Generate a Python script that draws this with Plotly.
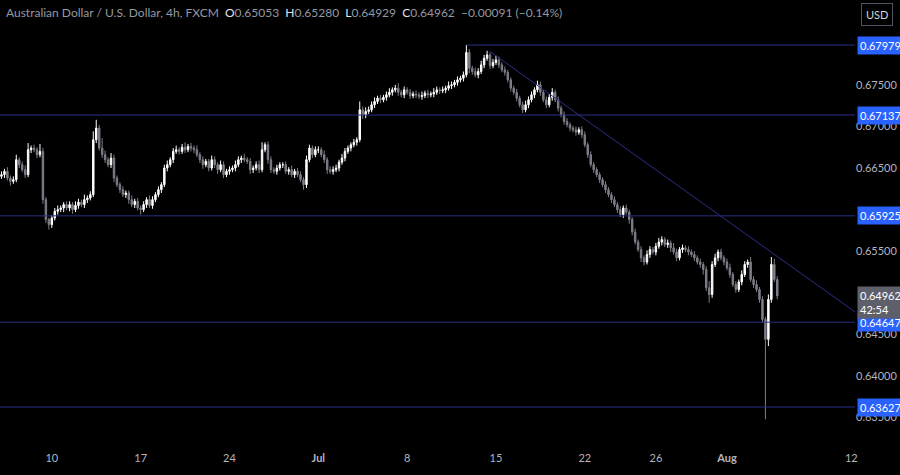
import pandas as pd
import plotly.graph_objects as go

# 4h closes, one row per trading day (first row starts Jun 5 04:00)
closes = [
    0.6642, 0.6646, 0.6638, 0.6634, 0.6636,                # Jun 5
    0.6660, 0.6654, 0.6648, 0.6642, 0.6672, 0.6674,        # Jun 6
    0.6672, 0.6666, 0.6670, 0.6612, 0.6588, 0.6582,        # Jun 7
    0.6590, 0.6598, 0.6600, 0.6602, 0.6606, 0.6602,        # Jun 10
    0.6606, 0.6600, 0.6605, 0.6609, 0.6606, 0.6612,        # Jun 11
    0.6614, 0.6618, 0.6684, 0.6698, 0.6674, 0.6666,        # Jun 12
    0.6660, 0.6654, 0.6662, 0.6638, 0.6630, 0.6624,        # Jun 13
    0.6618, 0.6620, 0.6612, 0.6606, 0.6610, 0.6602,        # Jun 14
    0.6600, 0.6606, 0.6612, 0.6605, 0.6612, 0.6618,        # Jun 17
    0.6624, 0.6630, 0.6650, 0.6654, 0.6660, 0.6670,        # Jun 18
    0.6672, 0.6670, 0.6675, 0.6672, 0.6676, 0.6674,        # Jun 19
    0.6672, 0.6666, 0.6660, 0.6654, 0.6658, 0.6650,        # Jun 20
    0.6660, 0.6654, 0.6648, 0.6654, 0.6642, 0.6646,        # Jun 21
    0.6648, 0.6650, 0.6654, 0.6660, 0.6662, 0.6660,        # Jun 24
    0.6658, 0.6648, 0.6650, 0.6654, 0.6648, 0.6672,        # Jun 25
    0.6678, 0.6660, 0.6648, 0.6646, 0.6650, 0.6654,        # Jun 26
    0.6654, 0.6646, 0.6648, 0.6642, 0.6646, 0.6642,        # Jun 27
    0.6636, 0.6630, 0.6660, 0.6674, 0.6666, 0.6672,        # Jun 28
    0.6672, 0.6666, 0.6660, 0.6648, 0.6646, 0.6648,        # Jul 1
    0.6650, 0.6657, 0.6662, 0.6670, 0.6674, 0.6678,        # Jul 2
    0.6681, 0.6684, 0.6720, 0.6714, 0.6718, 0.6720,        # Jul 3
    0.6726, 0.6730, 0.6734, 0.6732, 0.6735, 0.6738,        # Jul 4
    0.6741, 0.6744, 0.6746, 0.6741, 0.6738, 0.6744,        # Jul 5
    0.6741, 0.6737, 0.6739, 0.6738, 0.6736, 0.6737,        # Jul 8
    0.6740, 0.6738, 0.6739, 0.6741, 0.6744, 0.6743,        # Jul 9
    0.6744, 0.6746, 0.6749, 0.6750, 0.6753, 0.6756,        # Jul 10
    0.6758, 0.6762, 0.6789, 0.6770, 0.6766, 0.6762,        # Jul 11
    0.6766, 0.6774, 0.6782, 0.6786, 0.6773, 0.6777,        # Jul 12
    0.6780, 0.6774, 0.6768, 0.6765, 0.6756, 0.6746,        # Jul 15
    0.6741, 0.6734, 0.6726, 0.6720, 0.6726, 0.6732,        # Jul 16
    0.6738, 0.6744, 0.6750, 0.6741, 0.6732, 0.6726,        # Jul 17
    0.6735, 0.6741, 0.6732, 0.6722, 0.6714, 0.6706,        # Jul 18
    0.6702, 0.6698, 0.6696, 0.6693, 0.6696, 0.6690,        # Jul 19
    0.6678, 0.6666, 0.6654, 0.6648, 0.6642, 0.6636,        # Jul 22
    0.6630, 0.6624, 0.6618, 0.6612, 0.6606, 0.6600,        # Jul 23
    0.6594, 0.6602, 0.6597, 0.6588, 0.6573, 0.6561,        # Jul 24
    0.6552, 0.6542, 0.6537, 0.6546, 0.6552, 0.6549,        # Jul 25
    0.6556, 0.6561, 0.6564, 0.6558, 0.6560, 0.6554,        # Jul 26
    0.6549, 0.6542, 0.6552, 0.6554, 0.6552, 0.6549,        # Jul 29
    0.6546, 0.6542, 0.6537, 0.6534, 0.6528, 0.6506,        # Jul 30
    0.6498, 0.6534, 0.6542, 0.6549, 0.6542, 0.6537,        # Jul 31
    0.6530, 0.6522, 0.6510, 0.6504, 0.6513, 0.6522,        # Aug 1
    0.6534, 0.6537, 0.6516, 0.6510, 0.6504, 0.6492,        # Aug 2
    0.6468, 0.6444, 0.6492, 0.6534, 0.6516, 0.64962,       # Aug 5
]

# wick lengths beyond the body, in pips (0.0001)
wick_up = [
    4, 3, 5, 3, 4,
    6, 3, 4, 5, 8, 3,
    4, 3, 9, 4, 3, 2,
    3, 4, 5, 3, 3, 4,
    4, 3, 5, 4, 3, 6,
    3, 4, 10, 10, 4, 12,
    5, 3, 6, 4, 3, 3,
    4, 3, 3, 5, 3, 4,
    3, 4, 3, 5, 4, 3,
    4, 3, 4, 5, 3, 4,
    5, 3, 4, 6, 3, 4,
    3, 5, 3, 4, 3, 3,
    5, 4, 3, 5, 4, 3,
    4, 3, 5, 4, 3, 5,
    3, 4, 3, 4, 5, 9,
    3, 4, 4, 3, 4, 3,
    3, 4, 3, 5, 3, 4,
    4, 3, 5, 4, 3, 4,
    4, 3, 5, 3, 4, 4,
    4, 3, 5, 4, 3, 3,
    4, 3, 10, 4, 5, 4,
    4, 5, 3, 4, 3, 4,
    5, 3, 4, 6, 3, 4,
    3, 4, 3, 4, 3, 5,
    3, 4, 3, 5, 4, 3,
    4, 3, 5, 4, 3, 4,
    3, 4, 9, 4, 3, 5,
    4, 5, 4, 5, 3, 4,
    5, 4, 3, 4, 3, 3,
    3, 4, 3, 4, 5, 4,
    4, 3, 5, 4, 3, 4,
    4, 5, 3, 4, 3, 4,
    4, 3, 3, 4, 3, 4,
    4, 3, 4, 3, 3, 3,
    3, 4, 3, 3, 4, 3,
    4, 3, 4, 3, 3, 4,
    3, 4, 3, 5, 4, 3,
    4, 5, 4, 3, 4, 3,
    6, 4, 3, 4, 3, 4,
    3, 4, 3, 4, 3, 4,
    8, 4, 5, 3, 4, 3,
    4, 5, 3, 4, 3, 5,
    4, 3, 6, 4, 5, 3,
    4, 3, 6, 9, 7, 4,
]
wick_dn = [
    3, 4, 3, 5, 3,
    3, 4, 3, 4, 3, 4,
    3, 4, 3, 5, 4, 6,
    4, 3, 4, 3, 5, 3,
    4, 5, 3, 4, 3, 4,
    4, 3, 3, 4, 3, 4,
    4, 3, 4, 5, 3, 4,
    3, 4, 5, 3, 4, 3,
    6, 3, 4, 3, 4, 3,
    3, 4, 3, 4, 3, 4,
    3, 4, 3, 4, 3, 4,
    4, 3, 4, 5, 3, 4,
    3, 4, 5, 3, 4, 3,
    4, 3, 4, 3, 4, 3,
    3, 5, 4, 3, 4, 3,
    3, 5, 4, 3, 4, 3,
    4, 3, 4, 3, 4, 3,
    3, 6, 4, 3, 4, 3,
    4, 3, 4, 5, 3, 4,
    3, 4, 3, 4, 3, 4,
    3, 4, 3, 5, 4, 3,
    3, 4, 3, 4, 3, 4,
    3, 4, 3, 4, 3, 4,
    3, 4, 3, 4, 3, 4,
    3, 4, 3, 4, 3, 4,
    3, 4, 3, 4, 3, 4,
    3, 4, 3, 6, 4, 3,
    4, 3, 4, 3, 4, 3,
    3, 4, 3, 4, 3, 4,
    3, 4, 3, 4, 3, 4,
    3, 4, 3, 4, 3, 4,
    3, 4, 3, 4, 3, 4,
    3, 4, 3, 4, 3, 4,
    3, 4, 3, 4, 3, 4,
    3, 4, 3, 4, 3, 4,
    3, 4, 3, 5, 4, 3,
    3, 5, 4, 3, 4, 3,
    4, 3, 4, 3, 4, 5,
    3, 4, 3, 4, 3, 4,
    3, 4, 3, 4, 6, 4,
    10, 4, 3, 4, 3, 4,
    3, 4, 3, 4, 3, 4,
    3, 4, 3, 4, 3, 4,
    4, 96, 8, 4, 3, 4,
]

levels = [0.67979, 0.67137, 0.65925, 0.64647, 0.63627]
top_level_start = "2024-07-11 08:00"
trend_start = ("2024-07-12 16:00", 0.6790)
trend_end = ("2024-08-12 05:00", 0.6477)
ytick_vals = [0.635, 0.640, 0.645, 0.655, 0.665, 0.670, 0.675]
xtick_vals = ["2024-06-10", "2024-06-17", "2024-06-24", "2024-07-01", "2024-07-08",
              "2024-07-15", "2024-07-22", "2024-07-26", "2024-08-01", "2024-08-12"]
xtick_text = ["10", "17", "24", "<b>Jul</b>", "8", "15", "22", "26", "<b>Aug</b>", "12"]
last_price = 0.64962
countdown = "42:54"

# 4h bar timestamps on trading days
days = pd.bdate_range("2024-06-05", "2024-08-05")
times = [d + pd.Timedelta(hours=h) for d in days for h in (0, 4, 8, 12, 16, 20)][1:]

opens = [closes[0] - 0.0002] + closes[:-1]
highs = [max(o, c) + u / 10000 for o, c, u in zip(opens, closes, wick_up)]
lows = [min(o, c) - d / 10000 for o, c, d in zip(opens, closes, wick_dn)]

BG = "#000000"
LINE = "#2b2f86"
BLUE = "#2962ff"
TXT = "#b2b5be"
FONT = "Lato"

fig = go.Figure(go.Candlestick(
    x=times, open=opens, high=highs, low=lows, close=closes,
    increasing=dict(line=dict(color="#ffffff", width=1), fillcolor="#ffffff"),
    decreasing=dict(line=dict(color="#7c7f88", width=1), fillcolor="#7c7f88"),
    whiskerwidth=0, showlegend=False, hoverinfo="skip",
))

x_left = "2024-06-05 02:00"
x_right = "2024-08-12 05:00"
for i, lv in enumerate(levels):
    x0 = top_level_start if i == 0 else x_left
    fig.add_shape(type="line", x0=x0, x1=x_right, y0=lv, y1=lv,
                  line=dict(color=LINE, width=1))
    fig.add_annotation(x=1.0, xref="paper", y=lv, yref="y", xanchor="left",
                       text=f"{lv:.5f}", showarrow=False, bgcolor=BLUE,
                       font=dict(color="white", size=11, family=FONT),
                       borderpad=2, xshift=2)
fig.add_shape(type="line", x0=trend_start[0], y0=trend_start[1],
              x1=trend_end[0], y1=trend_end[1], line=dict(color=LINE, width=1))

fig.add_annotation(x=1.0, xref="paper", y=last_price, yref="y", xanchor="left",
                   yanchor="top", yshift=10, align="left",
                   text=f"{last_price:.5f}<br>{countdown}", showarrow=False,
                   bgcolor="#5d606b", font=dict(color="white", size=11, family=FONT),
                   borderpad=2, xshift=2)

title = ("Australian Dollar / U.S. Dollar, 4h, FXCM  "
         "<span style='color:#e0e3eb'>O</span>0.65053  "
         "<span style='color:#e0e3eb'>H</span>0.65280  "
         "<span style='color:#e0e3eb'>L</span>0.64929  "
         "<span style='color:#e0e3eb'>C</span>0.64962  −0.00091 (−0.14%)")
fig.add_annotation(x=0, xref="paper", y=1, yref="paper", xanchor="left",
                   yanchor="top", xshift=4, yshift=-3, text=title, showarrow=False,
                   font=dict(color="#9598a1", size=12, family=FONT))
fig.add_annotation(x=1.0, xref="paper", y=1, yref="paper", xanchor="left",
                   yanchor="top", xshift=6, yshift=-3, text="USD", showarrow=False,
                   bordercolor="#50535e", borderwidth=1, borderpad=4,
                   font=dict(color="#d1d4dc", size=11, family=FONT))

fig.update_layout(
    width=900, height=475,
    margin=dict(l=0, r=45, t=0, b=25, autoexpand=False),
    paper_bgcolor=BG, plot_bgcolor=BG,
    font=dict(family=FONT, color=TXT, size=11),
    xaxis=dict(range=[x_left, x_right], rangeslider=dict(visible=False),
               rangebreaks=[dict(bounds=["sat", "mon"])], automargin=False,
               tickvals=xtick_vals, ticktext=xtick_text, showgrid=False,
               zeroline=False, showline=False, ticks=""),
    yaxis=dict(range=[0.63110, 0.68520], side="right", tickvals=ytick_vals,
               tickformat=".5f", showgrid=False, zeroline=False, ticks="",
               automargin=False),
)

fig.write_html("out.html", config={"displayModeBar": False},
               post_script="document.body.style.margin='0';"
                           "document.body.style.background='#000';")
